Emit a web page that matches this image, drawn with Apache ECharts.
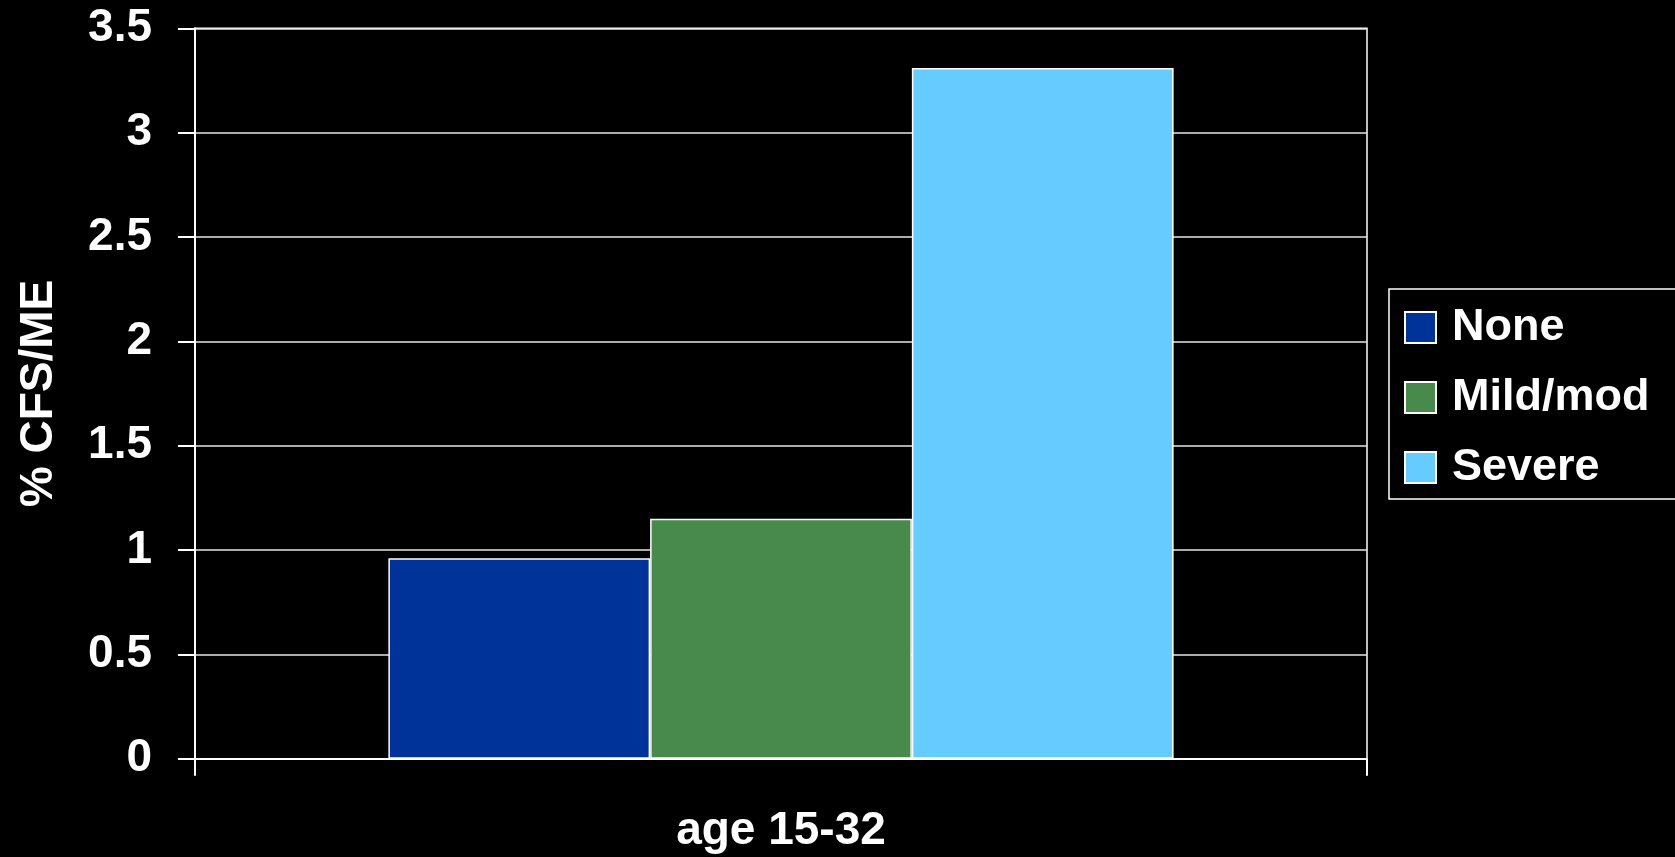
<!DOCTYPE html>
<html>
<head>
<meta charset="utf-8">
<style>
  html, body { margin: 0; padding: 0; background: #000; }
  #chart { width: 1675px; height: 857px; }
</style>
<script src="https://cdn.jsdelivr.net/npm/echarts@6/dist/echarts.min.js"></script>
</head>
<body>
<div id="chart"></div>
<script>
// Percentage with CFS/ME by severity group
const categories = ['age 15-32'];
const seriesNames = ['None', 'Mild/mod', 'Severe'];
const noneValues = [0.96];
const mildModValues = [1.15];
const severeValues = [3.31];
const seriesColors = ['#003399', '#478A4C', '#66CCFF'];
const yTicks = { min: 0, max: 3.5, interval: 0.5 };

const FONT = '"Liberation Sans", Arial, Helvetica, sans-serif';
const seriesValues = [noneValues, mildModValues, severeValues];

const chart = echarts.init(document.getElementById('chart'), null, { renderer: 'canvas' });

chart.setOption({
  backgroundColor: '#000000',
  animation: false,
  textStyle: { fontFamily: FONT, color: '#ffffff', fontWeight: 'bold' },
  grid: {
    left: 195, right: 308, top: 28.3, bottom: 98.3,
    show: true, borderColor: '#ffffff', borderWidth: 1.5,
    backgroundColor: 'transparent'
  },
  legend: {
    orient: 'vertical',
    left: 1389, top: 289,
    padding: [16, 30, 9, 15],
    itemWidth: 31, itemHeight: 31, itemGap: 25,
    borderColor: '#ffffff', borderWidth: 1.5,
    icon: 'rect',
    data: seriesNames,
    textStyle: {
      color: '#ffffff', fontSize: 45, fontWeight: 'bold', fontFamily: FONT,
      padding: [0, 0, 0, 11]
    }
  },
  xAxis: {
    type: 'category',
    data: categories,
    boundaryGap: true,
    axisLine: { show: true, lineStyle: { color: '#ffffff', width: 2 } },
    axisTick: { show: true, length: 17, lineStyle: { color: '#ffffff', width: 2 } },
    axisLabel: { color: '#ffffff', fontSize: 46, fontWeight: 'bold', fontFamily: FONT, margin: 50 },
    splitLine: { show: false }
  },
  yAxis: {
    type: 'value',
    min: yTicks.min, max: yTicks.max, interval: yTicks.interval,
    name: '% CFS/ME',
    nameLocation: 'middle',
    nameRotate: 90,
    nameGap: 133,
    nameTextStyle: { color: '#ffffff', fontSize: 46, fontWeight: 'bold', fontFamily: FONT },
    axisLine: { show: true, lineStyle: { color: '#ffffff', width: 2 } },
    axisTick: { show: true, length: 17, lineStyle: { color: '#ffffff', width: 2 } },
    axisLabel: { color: '#ffffff', fontSize: 46, fontWeight: 'bold', fontFamily: FONT, margin: 43 },
    splitLine: { show: true, lineStyle: { color: '#e6e6e6', width: 1.5 } }
  },
  series: seriesNames.map((name, i) => ({
    name,
    type: 'bar',
    data: seriesValues[i],
    barGap: '0%',
    barCategoryGap: '33%',
    itemStyle: { color: seriesColors[i], borderColor: '#ffffff', borderWidth: 1.5 }
  }))
});
</script>
</body>
</html>
